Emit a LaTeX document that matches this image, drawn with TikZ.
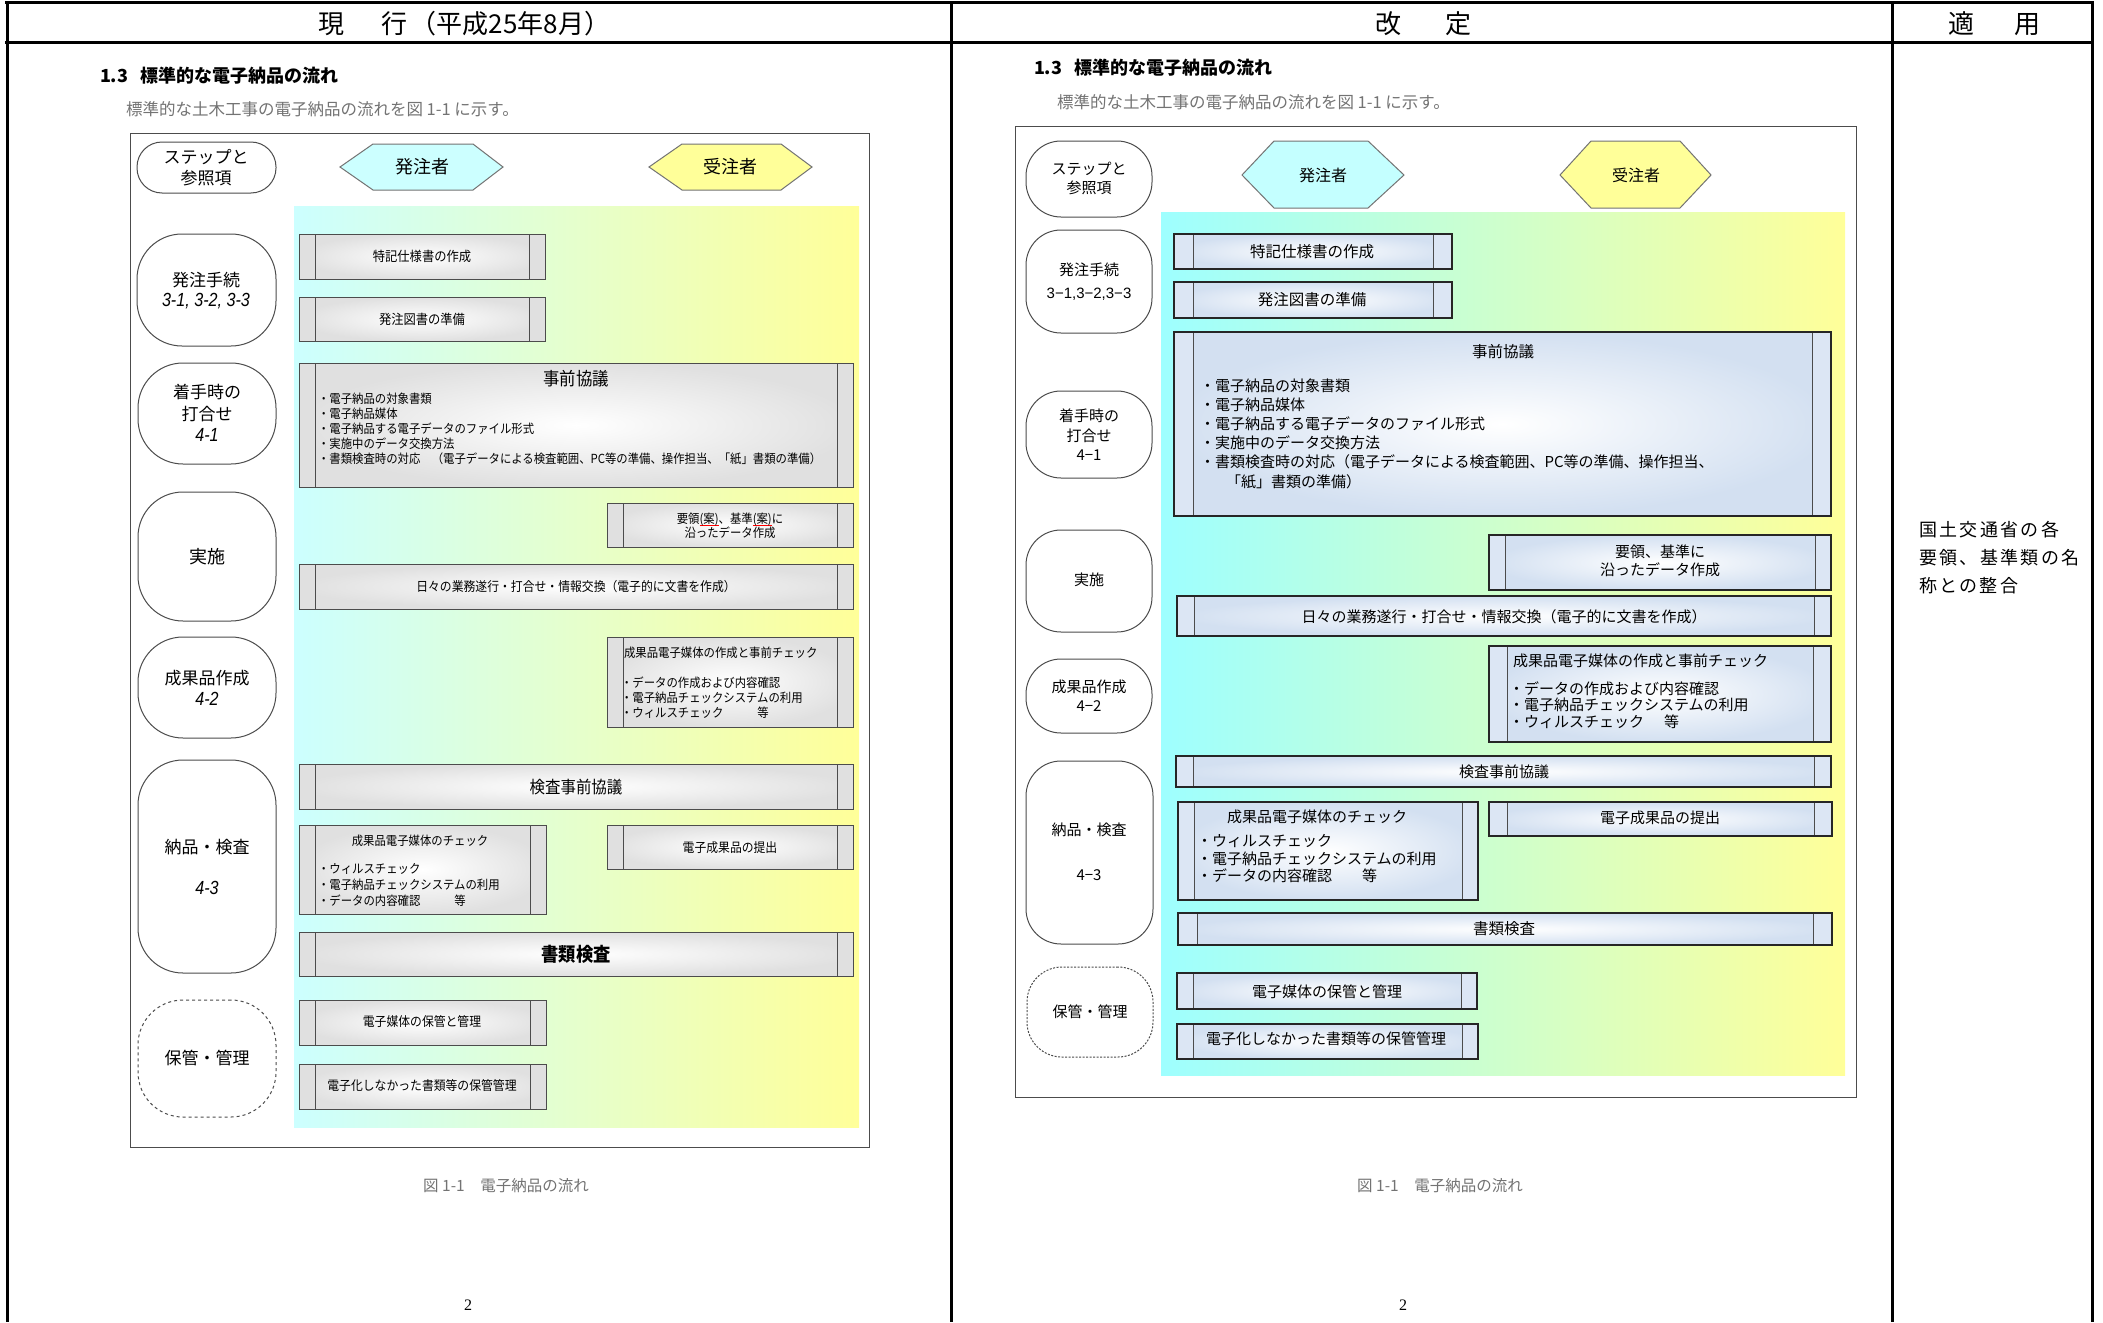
\documentclass[tikz,border=0pt]{standalone}
\usepackage{fontspec}
\newfontfamily\jp{Noto Sans CJK JP}
\newfontfamily\jpn[FakeStretch=0.91]{Noto Sans CJK JP}
\newfontfamily\jpls[LetterSpace=13]{Noto Sans CJK JP}
\newfontfamily\lat{Liberation Sans}
\newfontfamily\latn[FakeStretch=0.85]{Liberation Sans}
\newfontfamily\ser{Liberation Serif}
\newcommand\fsz[2]{\fontsize{#1}{#2}\selectfont}
\newcommand\redul[1]{\setbox0\hbox{#1}\rlap{\color{red}\rule[-3pt]{\wd0}{1.6pt}}\box0}
\newcommand\mkbox[6]{\pgfmathsetmacro\bxw{#5-#3}\pgfmathsetmacro\bxh{#6-#4}\node[#2, anchor=north west, minimum width=\bxw pt, minimum height=\bxh pt] (#1) at (#3,#4) {};}
\definecolor{cL}{HTML}{CCFFFF}
\definecolor{gL}{HTML}{E6FFCC}
\definecolor{yL}{HTML}{FFFF99}
\definecolor{cR}{HTML}{9EFFFF}
\definecolor{gR}{HTML}{E2FFC4}
\definecolor{yR}{HTML}{FFFF99}
\definecolor{hexC}{HTML}{C4FFFF}
\definecolor{hexY}{HTML}{FFFF99}
\definecolor{boxR}{HTML}{D3E0F1}
\definecolor{stripR}{HTML}{DCE6F4}
\tikzset{
  rulebar/.style={line width=3pt, black},
  frame/.style={draw=black!70, line width=1pt},
  stepbox/.style={draw=black!70, line width=1pt, fill=white},
  bgLs/.style={left color=cL, middle color=gL, right color=yL},
  bgRs/.style={left color=cR, middle color=gR, right color=yR},
  procL/.style={draw=black!70, line width=1pt, inner color=white, outer color=black!12,
    path picture={
      \fill[black!12] (path picture bounding box.north west) rectangle ([xshift=#1]path picture bounding box.south west);
      \fill[black!12] (path picture bounding box.north east) rectangle ([xshift=-#1]path picture bounding box.south east);
      \draw[black!70, line width=1pt] ([xshift=#1]path picture bounding box.north west) -- ([xshift=#1]path picture bounding box.south west);
      \draw[black!70, line width=1pt] ([xshift=-#1]path picture bounding box.north east) -- ([xshift=-#1]path picture bounding box.south east);}},
  procL/.default=16pt,
  procR/.style={draw=black!85, line width=1.2pt, inner color=white, outer color=boxR,
    path picture={
      \fill[stripR] (path picture bounding box.north west) rectangle ([xshift=#1]path picture bounding box.south west);
      \fill[stripR] (path picture bounding box.north east) rectangle ([xshift=-#1]path picture bounding box.south east);
      \draw[black!70, line width=1pt] ([xshift=#1]path picture bounding box.north west) -- ([xshift=#1]path picture bounding box.south west);
      \draw[black!70, line width=1pt] ([xshift=-#1]path picture bounding box.north east) -- ([xshift=-#1]path picture bounding box.south east);}},
  procR/.default=19pt,
  hexL/.style={draw=black!55, line width=1pt},
}
\begin{document}
\begin{tikzpicture}[x=1pt,y=-1pt, every node/.style={inner sep=0pt, outer sep=0pt}]
\useasboundingbox[fill=white] (0,0) rectangle (2103,1322);

% ---------- page table ----------
\draw[rulebar] (5,3) -- (2094,3);
\draw[rulebar] (5,43) -- (2094,43);
\draw[rulebar] (7,3) -- (7,1322);
\draw[rulebar] (951,3) -- (951,1322);
\draw[rulebar] (1892,3) -- (1892,1322);
\draw[rulebar] (2092,3) -- (2092,1322);
\node[font=\jp\fsz{26}{30}, anchor=west] (h1) at (318,24) {現\hspace{38pt}行\hspace{3pt}（平成25年8月）};
\node[font=\jp\fsz{26}{30}] (h2) at (1423,24) {改\hspace{44pt}定};
\node[font=\jp\fsz{26}{30}] (h3) at (1994,24) {適\hspace{40pt}用};

% ================= LEFT (current) =================
\node[font=\jp\bfseries\fsz{18}{22}, anchor=west] (tL) at (100,76) {1.3\hspace{12pt}標準的な電子納品の流れ};
\node[font=\jp\fsz{16.5}{20}, text=black!55, anchor=west] (stL) at (126,109) {標準的な土木工事の電子納品の流れを図 1-1 に示す。};

\mkbox{frL}{frame}{130}{133}{869}{1147}
\mkbox{bgL}{bgLs}{294}{206}{859}{1127}

% step boxes
\mkbox{sL0}{stepbox, rounded corners=25pt}{137}{142}{276}{193}
\mkbox{sL1}{stepbox, rounded corners=45pt}{137}{234}{276}{346}
\mkbox{sL2}{stepbox, rounded corners=45pt}{138}{363}{276}{464}
\mkbox{sL3}{stepbox, rounded corners=45pt}{138}{492}{276}{621}
\mkbox{sL4}{stepbox, rounded corners=45pt}{138}{637}{276}{738}
\mkbox{sL5}{stepbox, rounded corners=45pt}{138}{760}{276}{973}
\mkbox{sL6}{stepbox, dashed, rounded corners=45pt}{138}{1000}{276}{1117}

\node[font=\jp\fsz{17}{21}, align=center] (lsL0) at (206,168) {ステップと\\参照項};
\node[font=\jp\fsz{17}{21}] (lsL1a) at (206,280) {発注手続};
\node[font=\latn\itshape\fsz{19}{21}] (lsL1b) at (206,301) {3-1, 3-2, 3-3};
\node[font=\jp\fsz{17}{22}, align=center] (lsL2a) at (207,403) {着手時の\\打合せ};
\node[font=\latn\itshape\fsz{19}{21}] (lsL2b) at (207,435) {4-1};
\node[font=\jp\fsz{18}{21}] (lsL3) at (207,557) {実施};
\node[font=\jp\fsz{17}{21}] (lsL4a) at (207,678) {成果品作成};
\node[font=\latn\itshape\fsz{19}{21}] (lsL4b) at (207,699) {4-2};
\node[font=\jp\fsz{17}{21}] (lsL5a) at (207,847) {納品・検査};
\node[font=\latn\itshape\fsz{19}{21}] (lsL5b) at (207,888) {4-3};
\node[font=\jp\fsz{17}{21}] (lsL6) at (207,1058) {保管・管理};

% hexagons
\draw[hexL, fill=cL] (340,167) -- (373,144) -- (473,144) -- (503,167) -- (473,190) -- (373,190) -- cycle;
\node[font=\jp\fsz{18}{21}] (hxL1) at (422,167) {発注者};
\draw[hexL, fill=yL] (649,167) -- (682,144) -- (781,144) -- (812,167) -- (781,190) -- (682,190) -- cycle;
\node[font=\jp\fsz{18}{21}] (hxL2) at (730,167) {受注者};

% process boxes
\mkbox{aL1}{procL}{299}{234}{545}{279}
\mkbox{aL2}{procL}{299}{297}{545}{341}
\mkbox{aL3}{procL}{299}{363}{853}{487}
\mkbox{aL4}{procL}{607}{503}{853}{547}
\mkbox{aL5}{procL}{299}{564}{853}{609}
\mkbox{aL6}{procL}{607}{637}{853}{727}
\mkbox{aL7}{procL}{299}{764}{853}{809}
\mkbox{aL8}{procL}{299}{825}{546}{914}
\mkbox{aL9}{procL}{607}{825}{853}{869}
\mkbox{aL10}{procL}{299}{932}{853}{976}
\mkbox{aL11}{procL}{299}{1000}{546}{1045}
\mkbox{aL12}{procL}{299}{1064}{546}{1109}

\node[font=\jpn\fsz{13.5}{16}] (tL1) at (422,256) {特記仕様書の作成};
\node[font=\jpn\fsz{13.5}{16}] (tL2) at (422,319) {発注図書の準備};
\node[font=\jpn\fsz{18}{21}] (tL3) at (576,379) {事前協議};
\node[font=\jpn\fsz{12.5}{15.2}, align=left, anchor=north west] (tL3b) at (318,392.5)
  {・電子納品の対象書類\\・電子納品媒体\\・電子納品する電子データのファイル形式\\・実施中のデータ交換方法\\・書類検査時の対応　（電子データによる検査範囲、PC等の準備、操作担当、「紙」書類の準備）};
\node[font=\jpn\fsz{12.5}{14.5}, align=center] (tL4) at (730,526) {要領\redul{(案)}、基準\redul{(案)}に\\沿ったデータ作成};
\node[font=\jpn\fsz{13}{16}] (tL5) at (576,587) {日々の業務遂行・打合せ・情報交換（電子的に文書を作成）};
\node[font=\jpn\fsz{12.5}{15}, anchor=west] (tL6) at (624,653) {成果品電子媒体の作成と事前チェック};
\node[font=\jpn\fsz{12.5}{15}, align=left, anchor=north west] (tL6b) at (621,676.5)
  {・データの作成および内容確認\\・電子納品チェックシステムの利用\\・ウィルスチェック\hspace{34pt}等};
\node[font=\jpn\fsz{17}{20}] (tL7) at (576,787) {検査事前協議};
\node[font=\jpn\fsz{12.5}{15}] (tL8) at (420,841) {成果品電子媒体のチェック};
\node[font=\jpn\fsz{12.5}{16}, align=left, anchor=north west] (tL8b) at (318,863.5)
  {・ウィルスチェック\\・電子納品チェックシステムの利用\\・データの内容確認\hspace{34pt}等};
\node[font=\jpn\fsz{13}{16}] (tL9) at (730,848) {電子成果品の提出};
\node[font=\jpn\bfseries\fsz{19}{22}] (tL10) at (576,954) {書類検査};
\node[font=\jpn\fsz{13}{16}] (tL11) at (422,1022) {電子媒体の保管と管理};
\node[font=\jpn\fsz{13}{16}] (tL12) at (422,1086) {電子化しなかった書類等の保管管理};

\node[font=\jp\fsz{15.5}{18}, text=black!55] (capL) at (506,1186) {図 1-1　電子納品の流れ};
\node[font=\ser\fsz{16}{18}] (pgL) at (468,1305) {2};

% ================= RIGHT (revised) =================
\node[font=\jp\bfseries\fsz{18}{22}, anchor=west] (tR) at (1034,68) {1.3\hspace{12pt}標準的な電子納品の流れ};
\node[font=\jp\fsz{16.5}{20}, text=black!55, anchor=west] (stR) at (1057,102) {標準的な土木工事の電子納品の流れを図 1-1 に示す。};

\mkbox{frR}{frame}{1015}{126}{1856}{1097}
\mkbox{bgR}{bgRs}{1161}{212}{1845}{1075}

\mkbox{sR0}{stepbox, rounded corners=35pt}{1026}{141}{1152}{217}
\mkbox{sR1}{stepbox, rounded corners=35pt}{1026}{230}{1152}{333}
\mkbox{sR2}{stepbox, rounded corners=35pt}{1026}{391}{1152}{478}
\mkbox{sR3}{stepbox, rounded corners=35pt}{1026}{530}{1152}{632}
\mkbox{sR4}{stepbox, rounded corners=35pt}{1026}{659}{1152}{733}
\mkbox{sR5}{stepbox, rounded corners=35pt}{1026}{761}{1153}{944}
\mkbox{sR6}{stepbox, dash pattern=on 2pt off 1.5pt, rounded corners=35pt}{1027}{967}{1153}{1057}

\node[font=\jp\fsz{15}{19}, align=center] (lsR0) at (1089,178) {ステップと\\参照項};
\node[font=\jp\fsz{15}{19}] (lsR1a) at (1089,270) {発注手続};
\node[font=\lat\fsz{15}{19}] (lsR1b) at (1089,294) {3−1,3−2,3−3};
\node[font=\jp\fsz{15}{19.5}, align=center] (lsR2) at (1089,435) {着手時の\\打合せ\\4−1};
\node[font=\jp\fsz{15}{19}] (lsR3) at (1089,580) {実施};
\node[font=\jp\fsz{15}{19}, align=center] (lsR4) at (1089,696) {成果品作成\\4−2};
\node[font=\jp\fsz{15}{19}] (lsR5a) at (1089,830) {納品・検査};
\node[font=\jp\fsz{15}{19}] (lsR5b) at (1089,875) {4−3};
\node[font=\jp\fsz{15}{19}] (lsR6) at (1090,1012) {保管・管理};

\draw[hexL, fill=hexC] (1242,175) -- (1274,141) -- (1368,141) -- (1404,175) -- (1368,208) -- (1274,208) -- cycle;
\node[font=\jp\fsz{16}{19}] (hxR1) at (1323,175) {発注者};
\draw[hexL, fill=hexY] (1560,175) -- (1591,141) -- (1680,141) -- (1711,175) -- (1680,208) -- (1591,208) -- cycle;
\node[font=\jp\fsz{16}{19}] (hxR2) at (1636,175) {受注者};

\mkbox{aR1}{procR}{1174}{234}{1452}{269}
\mkbox{aR2}{procR}{1174}{282}{1452}{318}
\mkbox{aR3}{procR}{1174}{332}{1831}{516}
\mkbox{aR4}{procR=16pt}{1489}{535}{1831}{590}
\mkbox{aR5}{procR=17pt}{1177}{596}{1831}{636}
\mkbox{aR6}{procR=18pt}{1489}{646}{1831}{742}
\mkbox{aR7}{procR=17pt}{1176}{756}{1831}{787}
\mkbox{aR8}{procR=16pt}{1178}{802}{1478}{900}
\mkbox{aR9}{procR=18pt}{1489}{802}{1832}{836}
\mkbox{aR10}{procR}{1178}{913}{1832}{945}
\mkbox{aR11}{procR=16pt}{1177}{973}{1477}{1009}
\mkbox{aR12}{procR=16pt}{1177}{1024}{1478}{1059}

\node[font=\jp\fsz{15.5}{19}] (tR1) at (1312,252) {特記仕様書の作成};
\node[font=\jp\fsz{15.5}{19}] (tR2) at (1312,300) {発注図書の準備};
\node[font=\jp\fsz{15.5}{19}] (tR3) at (1503,352) {事前協議};
\node[font=\jp\fsz{15}{19.2}, align=left, anchor=north west] (tR3b) at (1200,378.5)
  {・電子納品の対象書類\\・電子納品媒体\\・電子納品する電子データのファイル形式\\・実施中のデータ交換方法\\・書類検査時の対応（電子データによる検査範囲、PC等の準備、操作担当、\\\hspace*{26pt}「紙」書類の準備）};
\node[font=\jp\fsz{15}{17.5}, align=center] (tR4) at (1660,561) {要領、基準に\\沿ったデータ作成};
\node[font=\jp\fsz{15}{19}] (tR5) at (1504,617) {日々の業務遂行・打合せ・情報交換（電子的に文書を作成）};
\node[font=\jp\fsz{15}{19}, anchor=west] (tR6) at (1513,661) {成果品電子媒体の作成と事前チェック};
\node[font=\jp\fsz{15}{16.5}, align=left, anchor=north west] (tR6b) at (1509,681.5)
  {・データの作成および内容確認\\・電子納品チェックシステムの利用\\・ウィルスチェック\hspace{20pt}等};
\node[font=\jp\fsz{15}{19}] (tR7) at (1504,772) {検査事前協議};
\node[font=\jp\fsz{15}{19}] (tR8) at (1317,817) {成果品電子媒体のチェック};
\node[font=\jp\fsz{15}{17.5}, align=left, anchor=north west] (tR8b) at (1197,834.5)
  {・ウィルスチェック\\・電子納品チェックシステムの利用\\・データの内容確認\hspace{30pt}等};
\node[font=\jp\fsz{15}{19}] (tR9) at (1660,818) {電子成果品の提出};
\node[font=\jp\fsz{15.5}{19}] (tR10) at (1504,929) {書類検査};
\node[font=\jp\fsz{15}{19}] (tR11) at (1327,992) {電子媒体の保管と管理};
\node[font=\jp\fsz{15}{19}] (tR12) at (1326,1039) {電子化しなかった書類等の保管管理};

\node[font=\jp\fsz{15.5}{18}, text=black!55] (capR) at (1440,1186) {図 1-1　電子納品の流れ};
\node[font=\ser\fsz{16}{18}] (pgR) at (1403,1305) {2};

% ================= third column =================
\node[font=\jpls\fsz{18}{28}, align=left, anchor=north west] (rc) at (1919,521) {国土交通省の各\\要領、基準類の名\\称との整合};
\end{tikzpicture}
\end{document}
